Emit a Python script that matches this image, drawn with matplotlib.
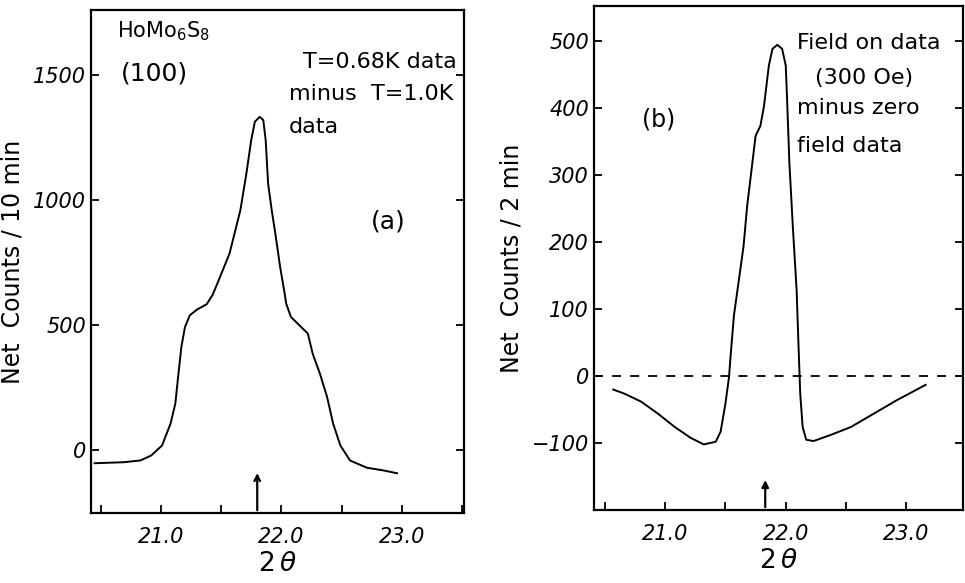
import numpy as np
import matplotlib.pyplot as plt
from matplotlib.ticker import MultipleLocator

# panel (a): T=0.68K minus T=1.0K, HoMo6S8 (100)
two_theta_a = [20.45, 20.69, 20.83, 20.92, 21.01, 21.08, 21.12, 21.14, 21.17, 21.20,
               21.24, 21.30, 21.38, 21.43, 21.48, 21.57, 21.66, 21.71, 21.75, 21.78,
               21.82, 21.85, 21.87, 21.89, 21.92, 21.95, 21.99, 22.03, 22.04, 22.08,
               22.15, 22.22, 22.26, 22.32, 22.38, 22.43, 22.49, 22.57, 22.71, 22.85,
               22.96]
counts_a = [-51, -47, -40, -20, 20, 107, 187, 280, 413, 493,
            540, 563, 584, 622, 680, 787, 960, 1107, 1240, 1313,
            1333, 1320, 1240, 1067, 960, 867, 733, 620, 587, 533,
            500, 467, 387, 307, 213, 107, 20, -40, -69, -80,
            -91]

# panel (b): field on (300 Oe) minus zero field
two_theta_b = [20.57, 20.66, 20.80, 20.94, 21.08, 21.21, 21.32, 21.42, 21.46, 21.50,
               21.53, 21.54, 21.57, 21.60, 21.65, 21.68, 21.71, 21.75, 21.79, 21.82,
               21.86, 21.89, 21.93, 21.97, 22.00, 22.01, 22.03, 22.06, 22.09, 22.11,
               22.12, 22.14, 22.17, 22.23, 22.37, 22.54, 22.73, 22.92, 23.16]
counts_b = [-20, -26, -38, -56, -76, -92, -102, -98, -83, -41,
            -1, 24, 90, 129, 194, 254, 299, 359, 374, 404,
            464, 489, 495, 489, 464, 419, 319, 219, 129, 24,
            -26, -76, -95, -97, -88, -76, -56, -36, -13]

arrow_a = 21.80
arrow_b = 21.83

fig = plt.figure(figsize=(9.65, 5.83), dpi=100)
ax_a = fig.add_axes([0.0943, 0.120, 0.387, 0.863])
ax_b = fig.add_axes([0.6155, 0.1252, 0.3825, 0.8645])


def style_axes(ax, xlim, ylim):
    ax.set_xlim(*xlim)
    ax.set_ylim(*ylim)
    ax.xaxis.set_minor_locator(MultipleLocator(0.5))
    ax.tick_params(axis='both', which='both', direction='in', length=6, width=1.3,
                   top=False, right=True, labelsize=15)
    ax.tick_params(axis='x', which='major', pad=10)
    ax.set_xticks([21.0, 22.0, 23.0])
    ax.set_xticklabels(['21.0', '22.0', '23.0'], fontstyle='italic')
    for s in ax.spines.values():
        s.set_linewidth(1.6)
    ax.set_xlabel(r'2$\,\theta$', fontsize=19, labelpad=3)


# (a)
ax_a.plot(two_theta_a, counts_a, color='black', lw=1.4, solid_joinstyle='round')
style_axes(ax_a, (20.42, 23.52), (-250, 1760))
ax_a.set_yticks([0, 500, 1000, 1500])
ax_a.set_yticklabels(['0', '500', '1000', '1500'], fontstyle='italic')
ax_a.set_ylabel('Net  Counts / 10 min', fontsize=17, labelpad=6)
ax_a.annotate('', xy=(arrow_a, 0.085), xycoords=('data', 'axes fraction'),
              xytext=(arrow_a, 0.0), textcoords=('data', 'axes fraction'),
              arrowprops=dict(arrowstyle='->', lw=1.6, color='black'))
ax_a.text(0.07, 0.945, r'HoMo$_6$S$_8$', transform=ax_a.transAxes, fontsize=15)
ax_a.text(0.08, 0.86, '(100)', transform=ax_a.transAxes, fontsize=18)
ax_a.text(0.98, 0.885, 'T=0.68K data', transform=ax_a.transAxes, fontsize=16, ha='right')
ax_a.text(0.53, 0.82, 'minus  T=1.0K', transform=ax_a.transAxes, fontsize=16)
ax_a.text(0.53, 0.755, 'data', transform=ax_a.transAxes, fontsize=16)
ax_a.text(0.75, 0.565, '(a)', transform=ax_a.transAxes, fontsize=18)

# (b)
ax_b.plot(two_theta_b, counts_b, color='black', lw=1.4, solid_joinstyle='round')
ax_b.axhline(0, color='black', lw=1.3, ls=(0, (5, 5)))
style_axes(ax_b, (20.41, 23.47), (-200, 553))
ax_b.set_yticks([-100, 0, 100, 200, 300, 400, 500])
ax_b.set_yticklabels(['\u2212100', '0', '100', '200', '300', '400', '500'], fontstyle='italic')
ax_b.set_ylabel('Net  Counts / 2 min', fontsize=17, labelpad=6)
ax_b.annotate('', xy=(arrow_b, 0.065), xycoords=('data', 'axes fraction'),
              xytext=(arrow_b, 0.0), textcoords=('data', 'axes fraction'),
              arrowprops=dict(arrowstyle='-|>', lw=1.6, color='black'))
ax_b.text(0.13, 0.76, '(b)', transform=ax_b.transAxes, fontsize=17)
ax_b.text(0.55, 0.915, 'Field on data', transform=ax_b.transAxes, fontsize=16)
ax_b.text(0.60, 0.845, '(300 Oe)', transform=ax_b.transAxes, fontsize=16)
ax_b.text(0.55, 0.785, 'minus zero', transform=ax_b.transAxes, fontsize=16)
ax_b.text(0.55, 0.71, 'field data', transform=ax_b.transAxes, fontsize=16)

fig.savefig('out.png', dpi=100)
